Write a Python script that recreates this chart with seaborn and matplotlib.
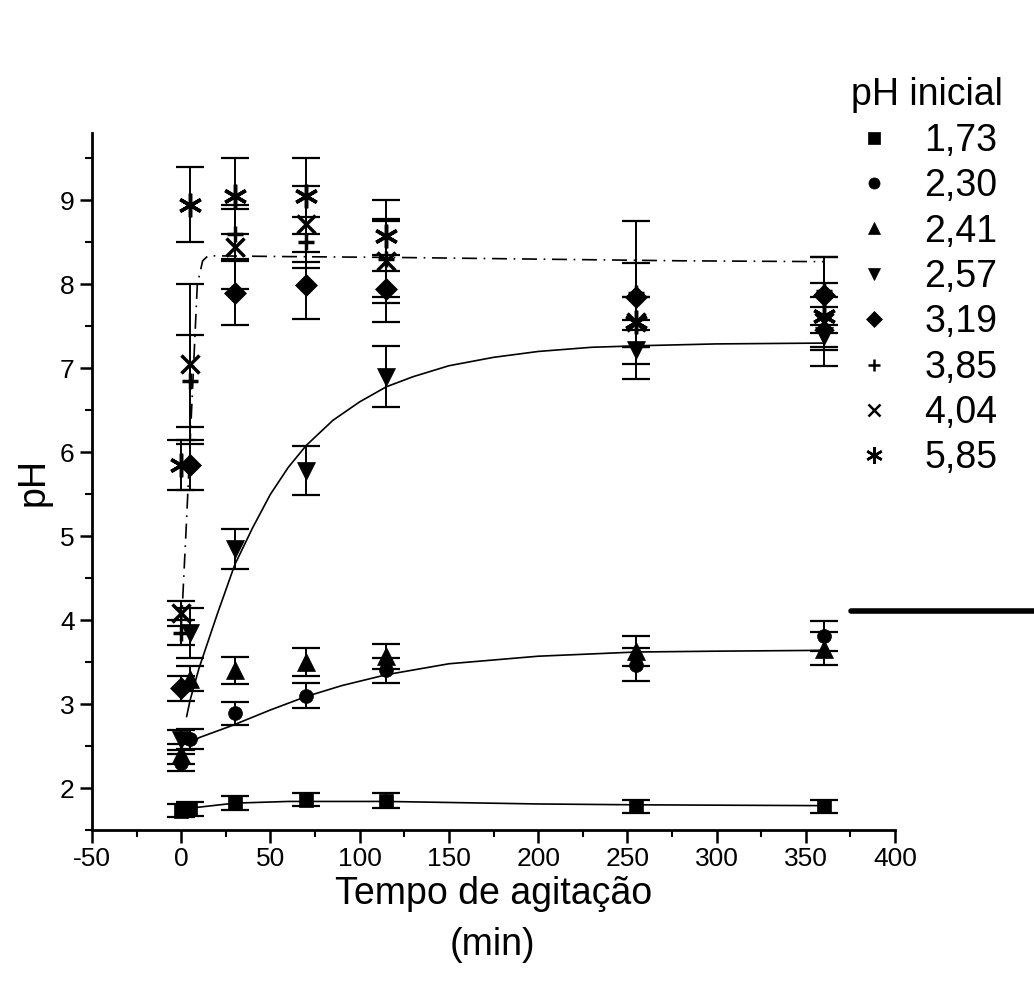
import matplotlib
matplotlib.use("Agg")
import matplotlib.pyplot as plt
from matplotlib.lines import Line2D
import seaborn as sns
import pandas as pd

# sampling times (min)
tempo = [0, 5, 30, 70, 115, 255, 360]

# measured pH per initial pH, with error bars
ph_173 = [1.73, 1.75, 1.82, 1.86, 1.85, 1.78, 1.78]
err_173 = [0.08, 0.08, 0.08, 0.08, 0.09, 0.08, 0.08]
ph_230 = [2.30, 2.58, 2.89, 3.10, 3.40, 3.47, 3.81]
err_230 = [0.10, 0.12, 0.14, 0.15, 0.15, 0.20, 0.18]
ph_241 = [2.41, 3.30, 3.40, 3.50, 3.57, 3.63, 3.66]
err_241 = [0.12, 0.15, 0.16, 0.17, 0.15, 0.18, 0.20]
ph_257 = [2.57, 3.85, 4.85, 5.78, 6.90, 7.22, 7.38]
err_257 = [0.12, 0.30, 0.24, 0.29, 0.36, 0.35, 0.35]
ph_319 = [3.19, 5.85, 7.90, 7.99, 7.95, 7.85, 7.87]
err_319 = [0.15, 0.30, 0.38, 0.40, 0.40, 0.40, 0.45]
ph_385 = [3.85, 6.85, 8.60, 8.50, 8.30, 7.90, 7.92]
err_385 = [0.15, 0.55, 0.30, 0.30, 0.45, 0.85, 0.40]
ph_404 = [4.08, 7.05, 8.45, 8.72, 8.28, 7.55, 7.55]
err_404 = [0.15, 0.95, 0.50, 0.45, 0.50, 0.30, 0.30]
ph_585 = [5.85, 8.95, 9.05, 9.05, 8.58, 7.55, 7.62]
err_585 = [0.30, 0.45, 0.45, 0.45, 0.42, 0.30, 0.40]

legenda = ["1,73", "2,30", "2,41", "2,57", "3,19", "3,85", "4,04", "5,85"]

# fitted curves
fit_hi_t = [0, 3, 6, 9, 12, 15, 60, 120, 200, 280, 360]
fit_hi_ph = [3.9, 5.2, 6.6, 8.0, 8.28, 8.34, 8.33, 8.32, 8.30, 8.28, 8.27]
fit_257_t = [3, 5, 10, 20, 30, 40, 50, 60, 70, 85, 100, 115, 130, 150, 175, 200, 230, 260, 300, 360]
fit_257_ph = [2.85, 3.05, 3.43, 4.06, 4.66, 5.10, 5.50, 5.82, 6.08, 6.38, 6.60, 6.78, 6.90, 7.03,
              7.13, 7.20, 7.25, 7.27, 7.29, 7.30]
fit_230_t = [5, 10, 28, 50, 70, 90, 115, 150, 200, 255, 300, 360]
fit_230_ph = [2.52, 2.60, 2.74, 2.93, 3.09, 3.22, 3.35, 3.48, 3.57, 3.62, 3.63, 3.64]
fit_173_t = [5, 30, 60, 115, 200, 255, 360]
fit_173_ph = [1.76, 1.82, 1.84, 1.84, 1.81, 1.80, 1.79]

sns.set_style("ticks")
plt.rcParams['font.family'] = ['Liberation Sans', 'DejaVu Sans']
plt.rcParams['axes.unicode_minus'] = False
for k in ['text.color', 'axes.labelcolor', 'xtick.color', 'ytick.color', 'axes.edgecolor']:
    plt.rcParams[k] = 'black'

fig = plt.figure(figsize=(10.34, 9.94), dpi=100)
ax = fig.add_axes([0.089, 0.165, 0.7766, 0.701])

series = [ph_173, ph_230, ph_241, ph_257, ph_319, ph_385, ph_404, ph_585]
erros = [err_173, err_230, err_241, err_257, err_319, err_385, err_404, err_585]
marcas = ['s', 'o', '^', 'v', 'D', '+', 'x', (6, 2, 0)]
tamanhos = [10, 10, 13, 13, 11, 12, 13, 17]

for ph, er, m, s in zip(series, erros, marcas, tamanhos):
    ax.errorbar(tempo, ph, yerr=er, fmt='none', ecolor='black', elinewidth=1.4,
                capsize=10, capthick=1.6)
    ax.plot(tempo, ph, linestyle='none', marker=m, markersize=s, color='black',
            markeredgewidth=2.5 if m in ['+', 'x', (6, 2, 0)] else 0.5)

curvas = pd.DataFrame({
    't': fit_hi_t + fit_257_t + fit_230_t + fit_173_t,
    'ph': fit_hi_ph + fit_257_ph + fit_230_ph + fit_173_ph,
    'curva': (['hi'] * len(fit_hi_t) + ['c257'] * len(fit_257_t)
              + ['c230'] * len(fit_230_t) + ['c173'] * len(fit_173_t)),
})
for nome, ls in [('hi', (0, (9, 4, 1, 4))), ('c257', '-'), ('c230', '-'), ('c173', '-')]:
    sub = curvas[curvas['curva'] == nome]
    sns.lineplot(data=sub, x='t', y='ph', ax=ax, color='black', linewidth=1.2,
                 linestyle=ls, sort=False, estimator=None, legend=False)

ax.set_xlim(-50, 400)
ax.set_ylim(1.5, 9.8)
ax.set_xticks(range(-50, 401, 50))
ax.set_xticks(range(-25, 400, 50), minor=True)
ax.set_yticks(range(2, 10))
ax.set_yticks([1.5 + i for i in range(9)], minor=True)
sns.despine(ax=ax)
for sp in ['left', 'bottom']:
    ax.spines[sp].set_linewidth(2)
ax.tick_params(which='major', direction='out', length=9, width=1.8, labelsize=19)
ax.tick_params(which='minor', direction='out', length=5, width=1.5)

ax.set_xlabel("Tempo de agitação", fontsize=27, labelpad=3)
fig.text(0.4765, 0.049, "(min)", fontsize=27, ha='center', va='center')
ax.set_ylabel("pH", fontsize=27)
ax.yaxis.set_label_coords(-0.05, 0.5)

handles = [Line2D([], [], linestyle='none', marker=m, color='black',
                  markersize=12 if m == (6, 2, 0) else 8,
                  markeredgewidth=1.8 if m in ['+', 'x', (6, 2, 0)] else 0.5)
           for m in marcas]
leg = fig.legend(handles, legenda, title="pH inicial", loc='upper left',
                 bbox_to_anchor=(0.805, 0.941), frameon=False, fontsize=27,
                 title_fontsize=27, labelspacing=0.25, handlelength=1.2,
                 handletextpad=0.75, borderpad=0)
leg._legend_box.align = "left"

fig.add_artist(Line2D([0.823, 1.0], [0.385, 0.385], color='black', linewidth=4))

fig.savefig("out.png", dpi=100)
